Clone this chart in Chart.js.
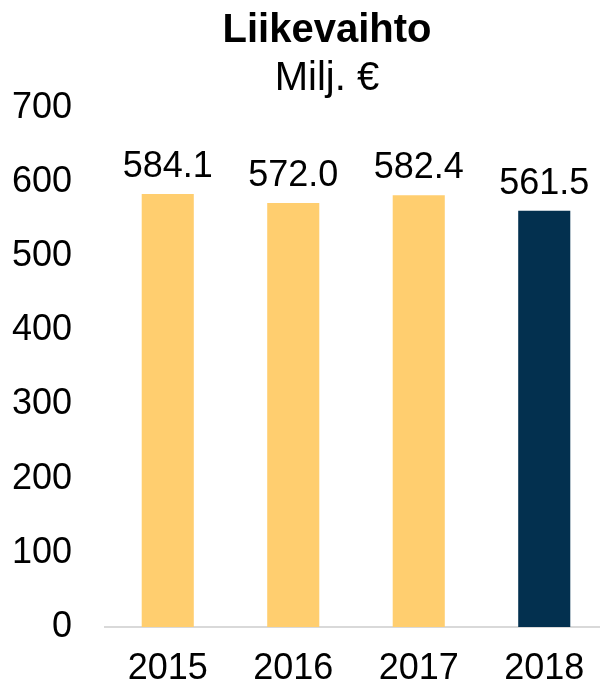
<!DOCTYPE html>
<html>
<head>
<meta charset="utf-8">
<script src="https://cdn.jsdelivr.net/npm/chart.js@4"></script>
<style>
  html, body { margin: 0; padding: 0; background: #fff; overflow: hidden; }
  #wrap { width: 607px; height: 688px; }
</style>
</head>
<body>
<div id="wrap"><canvas id="LV"></canvas></div>
<script>
let years = ["2015", "2016", "2017", "2018"];
let revenue = [584.1, 572.0, 582.4, 561.5];
let barColors = ["#FFCE6F", "#FFCE6F", "#FFCE6F", "#03304F"];
let yTicks = [0, 100, 200, 300, 400, 500, 600, 700];
let titleText = "Liikevaihto";
let unitText = "Milj. €";

let fontFam = "'Liberation Sans', Arial, sans-serif";

// title + unit line, placed like in the original slide
let headerText = {
  id: "headerText",
  afterDraw(chart) {
    let ctx = chart.ctx;
    ctx.save();
    ctx.fillStyle = "#000";
    ctx.textAlign = "center";
    ctx.textBaseline = "alphabetic";
    ctx.font = "bold 40px " + fontFam;
    ctx.fillText(titleText, 327, 42);
    ctx.font = "40px " + fontFam;
    ctx.fillText(unitText, 327, 90);
    ctx.restore();
  },
};

// draws the value above each bar
let valueLabels = {
  id: "valueLabels",
  afterDatasetsDraw(chart) {
    let ctx = chart.ctx;
    let meta = chart.getDatasetMeta(0);
    ctx.save();
    ctx.font = "36px " + fontFam;
    ctx.fillStyle = "#000";
    ctx.textAlign = "center";
    ctx.textBaseline = "alphabetic";
    meta.data.forEach((bar, i) => {
      ctx.fillText(revenue[i].toFixed(1), bar.x, bar.y - 17);
    });
    ctx.restore();
  },
};

renderRevenueChart();

function renderRevenueChart() {
  let LV = document.querySelector("#LV");
  let ConfigLV = new Chart(LV, {
    type: "bar",
    data: {
      labels: years,
      datasets: [
        {
          label: titleText,
          data: revenue,
          backgroundColor: barColors,
          barPercentage: 0.415,
          categoryPercentage: 1,
        },
      ],
    },
    plugins: [valueLabels, headerText],
    options: {
      responsive: true,
      maintainAspectRatio: false,
      animation: false,
      layout: { padding: { left: 10, right: 0, top: 108, bottom: 0 } },
      plugins: {
        legend: { display: false },
        tooltip: { enabled: false },
        title: { display: false },
      },
      scales: {
        x: {
          grid: { display: false, drawTicks: false },
          border: { display: true, color: "#D9D9D9", width: 2 },
          afterFit: (axis) => {
            axis.height = 61;
          },
          ticks: {
            color: "#000",
            padding: 20,
            font: { family: fontFam, size: 36 },
          },
        },
        y: {
          min: 0,
          max: 700,
          afterBuildTicks: (axis) => {
            axis.ticks = yTicks.map((v) => ({ value: v }));
          },
          afterFit: (axis) => {
            axis.width = 95;
          },
          grid: { display: false, drawTicks: false },
          border: { display: false },
          ticks: {
            color: "#000",
            padding: 33,
            font: { family: fontFam, size: 36 },
          },
        },
      },
    },
  });
}
</script>
</body>
</html>
